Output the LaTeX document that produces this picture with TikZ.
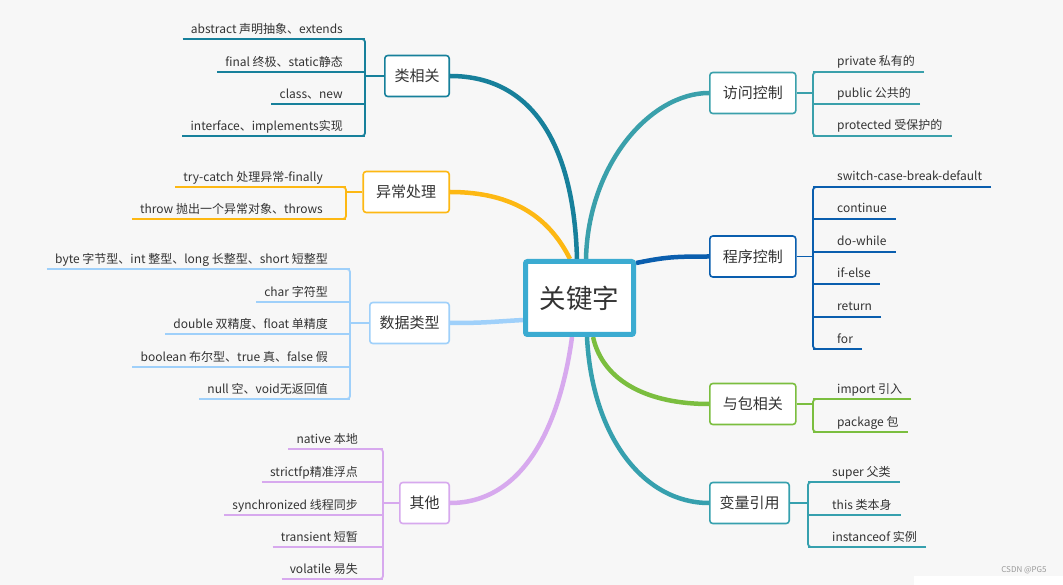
\documentclass[tikz,border=0pt]{standalone}
\usepackage{fontspec}
\setmainfont{Noto Sans CJK SC}
\usepackage{tikz}
\usepackage{xcolor}
\usetikzlibrary{backgrounds}

\definecolor{bgc}{HTML}{F7F7F7}
\definecolor{txt}{HTML}{333333}
\definecolor{hubc}{HTML}{3BABD1}
\definecolor{clsc}{HTML}{17809B}
\definecolor{excc}{HTML}{FDB813}
\definecolor{datc}{HTML}{9FD0FA}
\definecolor{othc}{HTML}{D7A9EE}
\definecolor{accc}{HTML}{3AA0AB}
\definecolor{prgc}{HTML}{0A5EAE}
\definecolor{pkgc}{HTML}{7BBE3F}
\definecolor{varc}{HTML}{36A0AE}

\begin{document}
\begin{tikzpicture}[x=1pt,y=-1pt,
  hub/.style={draw=hubc, line width=5pt, fill=white, rounded corners=2pt,
    minimum width=108pt, minimum height=73pt, text=txt,
    font=\fontsize{26.5}{30}\selectfont},
  topic/.style={line width=1.6pt, fill=white, rounded corners=3pt,
    minimum height=41pt, inner xsep=9.7pt, text=txt,
    font=\fontsize{15}{18}\selectfont},
  leaf/.style={inner sep=0pt, text=txt, font=\fontsize{12}{14}\selectfont},
  twig/.style={line width=1.8pt},
  bough/.style={line width=4.5pt}]
\useasboundingbox (0,0) rectangle (1063,585);
\begin{scope}[on background layer]
\fill[bgc] (0,0) rectangle (1063,585);
\fill[white] (914,576) rectangle (1063,585);
\end{scope}

% Centre
\node[hub] (hub) at (579.5,298) {关键字};

% 类相关
\node[topic, draw=clsc, anchor=east] (cls) at (450,76) {类相关};
\coordinate (clsb) at (365,76);
\foreach \i/\y/\t in {1/39/{abstract 声明抽象、extends}, 2/72/{final 终极、static静态},
    3/104/{class、new}, 4/136/{interface、implements实现}} {
  \coordinate (clsu\i) at (365,\y);
  \node[leaf, anchor=base east] (cls\i) at (343,\y-5.5) {\t};
  \draw[twig, clsc] (cls\i.base west) ++(-8,5.5) -- (clsu\i);
}
\draw[twig, clsc] (cls.west) -- (clsb);
\draw[twig, clsc, rounded corners=3pt] (clsu1) ++(-5,0) -- (clsu1) -- (clsu4) -- ++(-5,0);

% 异常处理
\node[topic, draw=excc, anchor=east, minimum width=86pt] (exc) at (450,192) {异常处理};
\coordinate (excb) at (346,192);
\foreach \i/\y/\t in {1/187/{try-catch 处理异常-finally}, 2/219/{throw 抛出一个异常对象、throws}} {
  \coordinate (excu\i) at (346,\y);
  \node[leaf, anchor=base east] (exc\i) at (323,\y-5.5) {\t};
  \draw[twig, excc] (exc\i.base west) ++(-8,5.5) -- (excu\i);
}
\draw[twig, excc] (exc.west) -- (excb);
\draw[twig, excc, rounded corners=3pt] (excu1) ++(-5,0) -- (excu1) -- (excu2) -- ++(-5,0);

% 数据类型
\node[topic, draw=datc, anchor=east] (dat) at (450,323) {数据类型};
\coordinate (datb) at (350,323);
\foreach \i/\y/\t in {1/269/{byte 字节型、int 整型、long 长整型、short 短整型}, 2/302/{char 字符型},
    3/334/{double 双精度、float 单精度}, 4/367/{boolean 布尔型、true 真、false 假},
    5/399/{null 空、void无返回值}} {
  \coordinate (datu\i) at (350,\y);
  \node[leaf, anchor=base east] (dat\i) at (328,\y-5.5) {\t};
  \draw[twig, datc] (dat\i.base west) ++(-8,5.5) -- (datu\i);
}
\draw[twig, datc] (dat.west) -- (datb);
\draw[twig, datc, rounded corners=3pt] (datu1) ++(-5,0) -- (datu1) -- (datu5) -- ++(-5,0);

% 其他
\node[topic, draw=othc, anchor=east] (oth) at (450,503) {其他};
\coordinate (othb) at (383,503);
\foreach \i/\y/\t in {1/449/{native 本地}, 2/482/{strictfp精准浮点}, 3/515/{synchronized 线程同步},
    4/547/{transient 短暂}, 5/579/{volatile 易失}} {
  \coordinate (othu\i) at (383,\y);
  \node[leaf, anchor=base east] (oth\i) at (358,\y-5.5) {\t};
  \draw[twig, othc] (oth\i.base west) ++(-8,5.5) -- (othu\i);
}
\draw[twig, othc] (oth.west) -- (othb);
\draw[twig, othc, rounded corners=3pt] (othu1) ++(-5,0) -- (othu1) -- (othu5) -- ++(-5,0);

% 访问控制
\node[topic, draw=accc, anchor=west, minimum width=86pt] (acc) at (709,93) {访问控制};
\coordinate (accb) at (813,93);
\foreach \i/\y/\t in {1/72/{private 私有的}, 2/104/{public 公共的}, 3/136/{protected 受保护的}} {
  \coordinate (accu\i) at (813,\y);
  \node[leaf, anchor=base west] (acc\i) at (837,\y-6) {\t};
  \draw[twig, accc] (acc\i.base east) ++(9,6) -- (accu\i);
}
\draw[twig, accc] (acc.east) -- (accb);
\draw[twig, accc, rounded corners=3pt] (accu1) ++(5,0) -- (accu1) -- (accu3) -- ++(5,0);

% 程序控制
\node[topic, draw=prgc, anchor=west, minimum width=86pt] (prg) at (709,256.5) {程序控制};
\coordinate (prgb) at (813,256.5);
\foreach \i/\y/\t in {1/187/{switch-case-break-default}, 2/219/{continue}, 3/252/{do-while},
    4/284/{if-else}, 5/317/{return}, 6/349/{for}} {
  \coordinate (prgu\i) at (813,\y);
  \node[leaf, anchor=base west] (prg\i) at (837,\y-6) {\t};
  \draw[twig, prgc] (prg\i.base east) ++(9,6) -- (prgu\i);
}
\draw[twig, prgc] (prg.east) -- (prgb);
\draw[twig, prgc, rounded corners=3pt] (prgu1) ++(5,0) -- (prgu1) -- (prgu6) -- ++(5,0);

% 与包相关
\node[topic, draw=pkgc, anchor=west, minimum width=86pt] (pkg) at (709,404) {与包相关};
\coordinate (pkgb) at (813,404);
\foreach \i/\y/\t in {1/399/{import 引入}, 2/432/{package 包}} {
  \coordinate (pkgu\i) at (813,\y);
  \node[leaf, anchor=base west] (pkg\i) at (837,\y-6) {\t};
  \draw[twig, pkgc] (pkg\i.base east) ++(9,6) -- (pkgu\i);
}
\draw[twig, pkgc] (pkg.east) -- (pkgb);
\draw[twig, pkgc, rounded corners=3pt] (pkgu1) ++(5,0) -- (pkgu1) -- (pkgu2) -- ++(5,0);

% 变量引用
\node[topic, draw=varc, anchor=west] (var) at (709,503) {变量引用};
\coordinate (varb) at (808,503);
\foreach \i/\y/\t in {1/482/{super 父类}, 2/515/{this 类本身}, 3/547/{instanceof 实例}} {
  \coordinate (varu\i) at (808,\y);
  \node[leaf, anchor=base west] (var\i) at (832,\y-6) {\t};
  \draw[twig, varc] (var\i.base east) ++(9,6) -- (varu\i);
}
\draw[twig, varc] (var.east) -- (varb);
\draw[twig, varc, rounded corners=3pt] (varu1) ++(5,0) -- (varu1) -- (varu3) -- ++(5,0);

% Boughs to the centre
\begin{scope}[on background layer]
\draw[bough, clsc] (cls.east) .. controls +(85,0) and +(-3,-110) .. ([xshift=-2.5pt]hub.north);
\draw[bough, excc] (exc.east) .. controls +(65,0) and +(-20,-40) .. ([xshift=-9.5pt]hub.north);
\draw[bough, datc] (dat.east) .. controls +(35,0) and +(-35,2) .. ([yshift=-22pt]hub.west);
\draw[bough, othc] (oth.east) .. controls +(80,0) and +(-10,75) .. ([xshift=-7.5pt]hub.south);
\draw[bough, accc] (acc.west) .. controls +(-59,0) and +(2,-94) .. ([xshift=6.5pt]hub.north);
\draw[bough, prgc] ([yshift=35pt]hub.east) .. controls +(30,-6) and +(-35,0) .. (prg.west);
\draw[bough, pkgc] ([xshift=13.5pt]hub.south) .. controls +(10,45) and +(-60,0) .. (pkg.west);
\draw[bough, varc] ([xshift=7.5pt]hub.south) .. controls +(5,100) and +(-65,0) .. (var.west);
\end{scope}

% Mark
\node[text=gray!80, font=\fontsize{8}{9}\selectfont] (mark) at (1024,570) {CSDN @PG5};
\end{tikzpicture}
\end{document}
